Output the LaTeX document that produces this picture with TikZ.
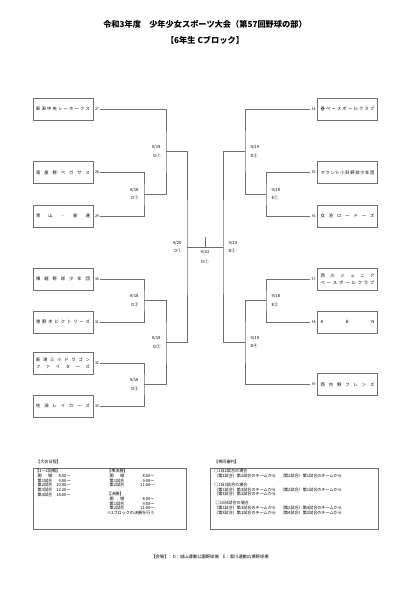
\documentclass[tikz,border=0pt]{standalone}
\usepackage{fontspec}
\setmainfont{Noto Sans CJK JP}
\usepackage{tikz}
\usetikzlibrary{positioning,calc}
\definecolor{rule}{RGB}{110,110,110}
\def\spreadchars#1#2{#1\ifx#2\relax\else\hfil\expandafter\spreadchars\fi#2}
\newcommand\tname[1]{\makebox[54pt][s]{\spreadchars#1\relax}}

\begin{document}
\begin{tikzpicture}[x=1pt,y=-1pt,
  team/.style={draw=rule,line width=0.6pt,minimum width=60pt,minimum height=22pt,inner sep=0pt,align=center,font=\fontsize{4.3}{7}\selectfont},
  num/.style={inner sep=1.2pt,font=\fontsize{3.6}{4}\selectfont},
  date/.style={inner sep=0.3pt,font=\fontsize{4.2}{5}\selectfont},
  wire/.style={draw=rule,line width=0.6pt},
  note/.style={anchor=north west,inner sep=0pt,align=left,font=\fontsize{4.1}{4.2}\selectfont}]
  \useasboundingbox (0,0) rectangle (408,589);
  \node[font=\fontsize{8.2}{10}\selectfont\bfseries] (title) at (205,24.5) {令和3年度　少年少女スポーツ大会（第57回野球の部）};
  \node[font=\fontsize{8.2}{10}\selectfont\bfseries] (block) at (205,40.5) {【6年生 Cブロック】};
  \begin{scope}
    \node[team] (t27) at (63,109) {\tname{新潟中央シーホークス}};
    \node[team] (t28) at (63,172.5) {\tname{鳥屋野ペガサス}};
    \node[team] (t29) at (63,216) {\tname{青山・新通}};
    \node[team] (t30) at (63,279) {\tname{横越野球少年団}};
    \node[team] (t31) at (63,322) {\tname{曽野木ビクトリーズ}};
    \node[team] (t32) at (63,363) {\tname{新津三小ドラゴン}\\\tname{ファイターズ}};
    \node[team] (t33) at (63,406) {\tname{佐潟レイカーズ}};
    \foreach \k in {27,...,33} \node[num,right=0.3pt of t\k] (n\k) {\k};
    \coordinate (m1) at (144,194.25); \coordinate (m2) at (166,151.6); \coordinate (m4) at (144,300.5);
    \coordinate (m5) at (144,384.5); \coordinate (m6) at (166,342.5); \coordinate (m3) at (187,247);
    \draw[wire] (n28.east) -| (m1) |- (n29.east); \draw[wire] (n27.east) -| (m2) |- (m1);
    \draw[wire] (n30.east) -| (m4) |- (n31.east); \draw[wire] (n32.east) -| (m5) |- (n33.east);
    \draw[wire] (m4) -| (m6) |- (m5); \draw[wire] (m2) -| (m3) |- (m6);
  \end{scope}
  \begin{scope}
    \node[team] (t34) at (347.5,109) {\tname{春ベースボールクラブ}};
    \node[team] (t35) at (347.5,172.5) {\tname{マウント小針野球少年団}};
    \node[team] (t36) at (347.5,216) {\tname{女池ロードーズ}};
    \node[team] (t37) at (347.5,279) {\tname{西川ジュニア}\\\tname{ベースボールクラブ}};
    \node[team] (t38) at (347.5,322) {\tname{KBN}};
    \node[team] (t39) at (347.5,384.5) {\tname{西内野フレンズ}};
    \foreach \k in {34,...,39} \node[num,left=0.3pt of t\k] (n\k) {\k};
    \coordinate (r1) at (266,194.25); \coordinate (r2) at (245,151.6); \coordinate (r4) at (266,300.5);
    \coordinate (r6) at (245,342.25); \coordinate (r3) at (223,247);
    \draw[wire] (n35.west) -| (r1) |- (n36.west); \draw[wire] (n34.west) -| (r2) |- (r1);
    \draw[wire] (n37.west) -| (r4) |- (n38.west); \draw[wire] (r4) -| (r6) |- (n39.west);
    \draw[wire] (r2) -| (r3) |- (r6);
  \end{scope}
  \coordinate (fin) at (205,247); \coordinate (fintop) at (205,237);
  \draw[wire] (m3) -- (r3); \draw[wire] (fin) -- (fintop);
  \foreach \c/\d/\p in {m1/9\slash18/D①,m2/9\slash19/D①,m4/9\slash18/D②,m5/9\slash18/D③,m6/9\slash19/D②,m3/9\slash20/D①} {
    \node[date,above left=1.5pt and 5pt of \c] (\c d) {\d}; \node[date,below left=1.5pt and 5pt of \c] (\c p) {\p};}
  \foreach \c/\d/\p in {r1/9\slash18/E①,r2/9\slash19/D③,r4/9\slash18/E②,r6/9\slash19/D④,r3/9\slash20/D②} {
    \node[date,above right=1.5pt and 5pt of \c] (\c d) {\d}; \node[date,below right=1.5pt and 5pt of \c] (\c p) {\p};}
  \node[date,below=2.5pt of fin] (find) {9/23}; \node[date,below=4.5pt of find] (finp) {D①};
  \node[note] (schedt) at (36,459.5) {【大会日程】};
  \draw[rule,line width=0.6pt] (33,468) rectangle (186,529);
  \node[note] (sched1) at (35,469) {\begin{tabular}{@{\hspace{2.5pt}}l@{\hspace{4pt}}r@{}}
    \multicolumn{2}{@{}l@{}}{【1〜2回戦】}\\
    \makebox[14.5pt][s]{開\hfil 場} & 8:00〜\\ 第1試合 & 9:00〜\\ 第2試合 & 10:40〜\\ 第3試合 & 12:20〜\\ 第4試合 & 14:00〜
  \end{tabular}};
  \node[note] (sched2) at (107,469) {\begin{tabular}{@{\hspace{2.5pt}}l@{\hspace{5pt}}r@{}}
    \multicolumn{2}{@{}l@{}}{【準決勝】}\\
    \makebox[14.5pt][s]{開\hfil 場} & 8:00〜\\ 第1試合 & 9:00〜\\ 第2試合 & 11:00〜\\[4.2pt]
    \multicolumn{2}{@{}l@{}}{【決勝】}\\
    \makebox[14.5pt][s]{開\hfil 場} & 8:00〜\\ 第1試合 & 9:00〜\\ 第2試合 & 11:00〜\\
    \multicolumn{2}{@{}l@{}}{※2ブロックの決勝を行う}
  \end{tabular}};
  \node[note] (umpt) at (214,459.5) {【帯同審判】};
  \draw[rule,line width=0.6pt] (210,468) rectangle (378,529);
  \node[note] (ump) at (214,469) {\begin{tabular}{@{}l@{\hspace{4pt}}l@{}}
    ○1日2試合の場合 & \\
    （第1試合）第2試合のチームから & （第2試合）第1試合のチームから\\[4.2pt]
    ○1日3試合の場合 & \\
    （第1試合）第3試合のチームから & （第2試合）第1試合のチームから\\
    （第3試合）第2試合のチームから & \\[4.2pt]
    \hspace{1.5pt}○1日4試合の場合 & \\
    （第1試合）第3試合のチームから & （第2試合）第4試合のチームから\\
    （第3試合）第1試合のチームから & （第4試合）第2試合のチームから
  \end{tabular}};
  \node[font=\fontsize{4.3}{5}\selectfont] (venue) at (210,557) {【会場】　D：城山運動公園野球場　E：黒川運動広場野球場};
\end{tikzpicture}
\end{document}
